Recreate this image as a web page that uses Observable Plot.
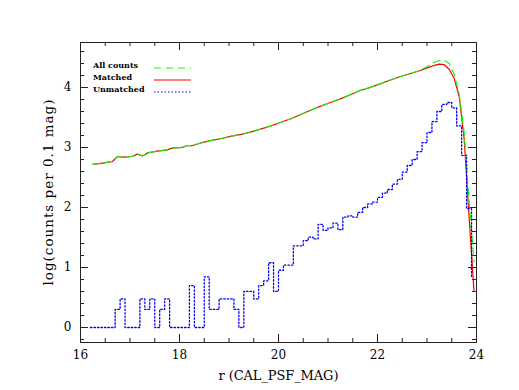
<!DOCTYPE html>
<html><head><meta charset="utf-8">
<script src="https://cdn.jsdelivr.net/npm/d3@7"></script>
<script src="https://cdn.jsdelivr.net/npm/@observablehq/plot@0.6"></script>
<style>body{margin:0;background:#fff;} #chart{width:519px;height:390px;}</style>
</head><body><div id="chart"></div>
<script>
// bin centres for the two cumulative-style curves
const magX = [16.25,16.45,16.65,16.75,16.85,17.05,17.15,17.25,17.35,17.55,17.75,17.85,18.05,18.15,18.25,18.45,18.65,18.85,19.05,19.25,19.45,19.65,19.85,20.05,20.25,20.45,20.65,20.85,21.05,21.25,21.45,21.65,21.85,22.05,22.25,22.45,22.65,22.85,23.05,23.15,23.25,23.35,23.45,23.55,23.65,23.75,23.85,23.95];
const matchedY = [2.72,2.74,2.77,2.85,2.84,2.85,2.89,2.86,2.91,2.94,2.96,2.99,3.0,3.03,3.03,3.08,3.12,3.15,3.19,3.22,3.26,3.31,3.36,3.42,3.48,3.55,3.62,3.69,3.75,3.81,3.88,3.95,4.0,4.06,4.12,4.18,4.23,4.28,4.34,4.37,4.39,4.38,4.3,4.15,3.85,3.15,1.85,0.6];
const allY = [2.72,2.74,2.77,2.85,2.84,2.85,2.89,2.86,2.91,2.94,2.96,2.99,3.0,3.03,3.03,3.08,3.12,3.15,3.19,3.22,3.26,3.31,3.36,3.42,3.48,3.55,3.62,3.69,3.75,3.81,3.88,3.95,4.0,4.06,4.12,4.18,4.23,4.28,4.37,4.42,4.45,4.45,4.4,4.22,3.9,3.25,2.1,1.1];
// histogram bin left edges (last value = right edge) for unmatched
const unmatchedX = [16.2,16.3,16.4,16.5,16.6,16.7,16.8,16.9,17.0,17.1,17.2,17.3,17.4,17.5,17.6,17.7,17.8,17.9,18.0,18.1,18.2,18.3,18.4,18.5,18.6,18.7,18.8,18.9,19.0,19.1,19.2,19.3,19.4,19.5,19.6,19.7,19.8,19.9,20.0,20.1,20.2,20.3,20.4,20.5,20.6,20.7,20.8,20.9,21.0,21.1,21.2,21.3,21.4,21.5,21.6,21.7,21.8,21.9,22.0,22.1,22.2,22.3,22.4,22.5,22.6,22.7,22.8,22.9,23.0,23.1,23.2,23.3,23.4,23.5,23.6,23.7,23.8,23.9];
const unmatchedY = [0,0,0,0,0,0.301,0.477,0,0,0,0.477,0.301,0.477,0,0.301,0.477,0,0,0,0,0.699,0,0,0.845,0.301,0.301,0.477,0.477,0.477,0.301,0,0.602,0.602,0.477,0.699,0.778,1.079,0.602,0.954,1.041,1.041,1.362,1.362,1.447,1.505,1.477,1.72,1.62,1.66,1.74,1.63,1.84,1.86,1.84,1.92,2.0,2.06,2.09,2.17,2.24,2.3,2.39,2.47,2.59,2.7,2.8,2.93,3.08,3.25,3.43,3.6,3.72,3.75,3.66,3.36,2.87,1.98,0.84];

const xMajor = [16,18,20,22,24];
const xMinor = [16.5,17,17.5,18.5,19,19.5,20.5,21,21.5,22.5,23,23.5];
const yMajor = [0,1,2,3,4];
const yMinor = [-0.2,0.2,0.4,0.6,0.8,1.2,1.4,1.6,1.8,2.2,2.4,2.6,2.8,3.2,3.4,3.6,3.8,4.2,4.4,4.6];
const xTitle = "r (CAL_PSF_MAG)";
const yTitle = "log(counts per 0.1 mag)";
const legendLabels = ["All counts","Matched","Unmatched"];
const seriesColors = ["#00ff00","#ff0000","#0000ff"];
const seriesDash = ["7,5",null,"1.5,2"];

const all = magX.map((x,i)=>({x, y: allY[i]}));
const matched = magX.map((x,i)=>({x, y: matchedY[i]}));
const unmatched = unmatchedX.map((x,i)=>({x, y: unmatchedY[i]}));

const W=519,H=390,mL=80,mR=43,mT=42,mB=48;
const iw=W-mL-mR, ih=H-mT-mB;

const chart = Plot.plot({
  width:W, height:H, marginLeft:mL, marginRight:mR, marginTop:mT, marginBottom:mB,
  x:{domain:[16,24]}, y:{domain:[-0.25,4.75]},
  style:{fontFamily:"DejaVu Serif", fontSize:"12px", background:"#fff", color:"#000"},
  marks:[
    Plot.tickX(xMajor,{x:d=>d, insetTop:ih-8, stroke:"#222"}),
    Plot.tickX(xMajor,{x:d=>d, insetBottom:ih-8, stroke:"#222"}),
    Plot.tickX(xMinor,{x:d=>d, insetTop:ih-4, stroke:"#222"}),
    Plot.tickX(xMinor,{x:d=>d, insetBottom:ih-4, stroke:"#222"}),
    Plot.tickY(yMajor,{y:d=>d, insetRight:iw-8, stroke:"#222"}),
    Plot.tickY(yMajor,{y:d=>d, insetLeft:iw-8, stroke:"#222"}),
    Plot.tickY(yMinor,{y:d=>d, insetRight:iw-4, stroke:"#222"}),
    Plot.tickY(yMinor,{y:d=>d, insetLeft:iw-4, stroke:"#222"}),
    Plot.axisX({ticks:xMajor, tickSize:0, tickPadding:8, label:null, tickFormat:d=>String(d)}),
    Plot.axisY({ticks:yMajor, tickSize:0, tickPadding:9, label:null, tickFormat:d=>String(d)}),
    Plot.text([xTitle],{frameAnchor:"bottom", dy:37, fontSize:13, text:d=>d}),
    Plot.text([yTitle],{frameAnchor:"left", dx:-32, rotate:-90, fontSize:13.5, textAnchor:"middle", lineAnchor:"middle", text:d=>d}),
    Plot.line(matched,{x:"x", y:"y", stroke:seriesColors[1], strokeWidth:1.2}),
    Plot.line(all,{x:"x", y:"y", stroke:seriesColors[0], strokeWidth:1.2, strokeDasharray:seriesDash[0]}),
    Plot.line(unmatched,{x:"x", y:"y", curve:"step-after", stroke:seriesColors[2], strokeWidth:1.3, strokeDasharray:seriesDash[2]}),
    Plot.frame({stroke:"#222"})
  ]
});

const svg = d3.select(chart);
// fit the axis titles to the reference lengths
svg.selectAll("text").filter(function(){ return this.textContent === yTitle; })
  .attr("textLength", 186).attr("lengthAdjust","spacing");
svg.selectAll("text").filter(function(){ return this.textContent === xTitle; })
  .attr("textLength", 120).attr("lengthAdjust","spacing");

// legend inside the frame, top-left
const lg = svg.append("g").attr("font-family","DejaVu Serif").attr("font-weight","bold").attr("font-size",8).attr("text-anchor","start");
legendLabels.forEach((lab,i)=>{
  const yb = 68 + i*12;
  lg.append("text").attr("x",93).attr("y",yb).attr("fill","#000").attr("text-anchor","start").text(lab);
  const ln = lg.append("line").attr("x1",154).attr("x2",191).attr("y1",yb).attr("y2",yb)
    .attr("stroke",seriesColors[i]).attr("stroke-width",1.2);
  if (seriesDash[i]) ln.attr("stroke-dasharray",seriesDash[i]);
});

document.getElementById("chart").appendChild(chart);
</script>
</body></html>
